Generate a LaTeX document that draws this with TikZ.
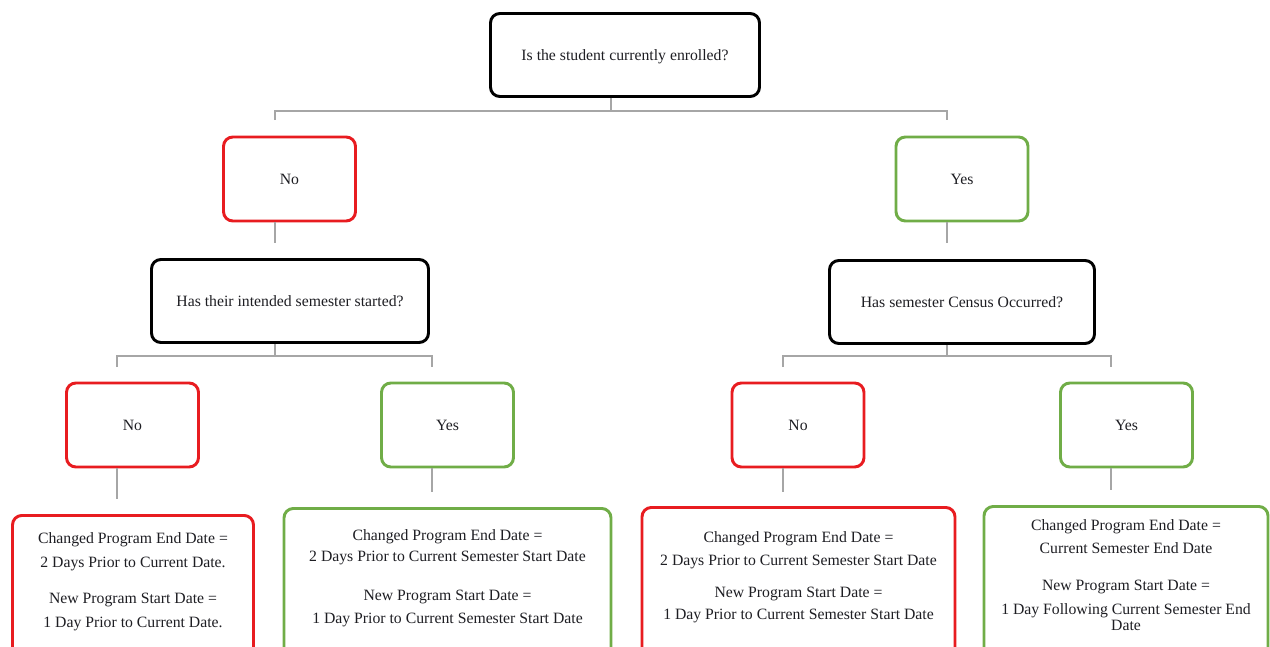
\documentclass[tikz,border=0pt]{standalone}
\usepackage{fontspec}
\setmainfont{Liberation Serif}
\begin{document}
\begin{tikzpicture}[x=0.75pt,y=-0.75pt,
  box/.style={draw, rounded corners=7pt, line width=2.2pt, fill=white, inner sep=0pt, text=txt,
    text depth=0pt, font=\fontsize{11.8}{13.5}\selectfont},
  qbox/.style={box, draw=black},
  nobox/.style={box, draw=redc},
  yesbox/.style={box, draw=greenc},
  lvl/.style={minimum width=99pt, minimum height=63pt},
  btxt/.style={align=center, text=txt, inner sep=0pt, font=\fontsize{11.8}{13.5}\selectfont},
  conn/.style={draw=grayc, line width=1.1pt}]
\definecolor{redc}{RGB}{232,28,32}
\definecolor{greenc}{RGB}{112,173,71}
\definecolor{grayc}{RGB}{166,166,166}
\definecolor{txt}{RGB}{30,30,35}
\useasboundingbox (0,0) rectangle (1270,646);
\clip (0,0) rectangle (1270,646);

% level 0
\node[qbox, minimum width=201.75pt, minimum height=62.25pt] (top) at (625,55) {Is the student currently enrolled?};
% level 1
\node[nobox, lvl] (no1) at (289.5,179) {No};
\node[yesbox, lvl] (yes1) at (962,179) {Yes};
% level 2
\node[qbox, minimum width=207.75pt, minimum height=62.25pt] (qL) at (290,301) {Has their intended semester started?};
\node[qbox, minimum width=198.75pt, minimum height=62.25pt] (qR) at (962,302) {Has semester Census Occurred?};
% level 3
\node[nobox, lvl] (noLL) at (132.5,425) {No};
\node[yesbox, lvl] (yesLR) at (447.5,425) {Yes};
\node[nobox, lvl] (noRL) at (798,425) {No};
\node[yesbox, lvl] (yesRR) at (1126.5,425) {Yes};
% bottom boxes (extend below the picture)
\node[nobox, anchor=north, minimum width=180.75pt, minimum height=120pt] (b1) at (133,514) {};
\node[yesbox, anchor=north, minimum width=245.25pt, minimum height=120pt] (b2) at (447.5,507) {};
\node[nobox, anchor=north, minimum width=234.75pt, minimum height=120pt] (b3) at (798.5,506) {};
\node[yesbox, anchor=north, minimum width=213pt, minimum height=120pt] (b4) at (1126,505) {};

\node[btxt, anchor=north] (t1) at (133,532) {Changed Program End Date =\\[4.5pt]2 Days Prior to Current Date.\\[13.5pt]New Program Start Date =\\[4.5pt]1 Day Prior to Current Date.};
\node[btxt, anchor=north] (t2) at (447.5,529) {Changed Program End Date =\\[2.25pt]2 Days Prior to Current Semester Start Date\\[15.75pt]New Program Start Date =\\[3.75pt]1 Day Prior to Current Semester Start Date};
\node[btxt, anchor=north] (t3) at (798.5,531) {Changed Program End Date =\\[3.75pt]2 Days Prior to Current Semester Start Date\\[10.5pt]New Program Start Date =\\[3pt]1 Day Prior to Current Semester Start Date};
\node[btxt, anchor=north] (t4) at (1126,519) {Changed Program End Date =\\[3.75pt]Current Semester End Date\\[14.25pt]New Program Start Date =\\[4.5pt]1 Day Following Current Semester End\\[-1.5pt]Date};

% connectors: top split
\coordinate (j0) at (611,111);
\coordinate (e0a) at (275,120);
\coordinate (e0b) at (947,120);
\draw[conn] (top.south -| j0) -- (j0);
\draw[conn] (e0a) |- (j0) -| (e0b);
% level 1 down
\coordinate (d1a) at (275,243);
\coordinate (d1b) at (947,243);
\draw[conn] (no1.south -| d1a) -- (d1a);
\draw[conn] (yes1.south -| d1b) -- (d1b);
% left split
\coordinate (jL) at (275,356);
\coordinate (eLa) at (117,367);
\coordinate (eLb) at (432,367);
\draw[conn] (qL.south -| jL) -- (jL);
\draw[conn] (eLa) |- (jL) -| (eLb);
% right split
\coordinate (jR) at (947,356);
\coordinate (eRa) at (783,367);
\coordinate (eRb) at (1111,367);
\draw[conn] (qR.south -| jR) -- (jR);
\draw[conn] (eRa) |- (jR) -| (eRb);
% level 3 down
\coordinate (d3a) at (117,499);
\coordinate (d3b) at (432,492);
\coordinate (d3c) at (783,492);
\coordinate (d3d) at (1111,490);
\draw[conn] (noLL.south -| d3a) -- (d3a);
\draw[conn] (yesLR.south -| d3b) -- (d3b);
\draw[conn] (noRL.south -| d3c) -- (d3c);
\draw[conn] (yesRR.south -| d3d) -- (d3d);
\end{tikzpicture}
\end{document}
